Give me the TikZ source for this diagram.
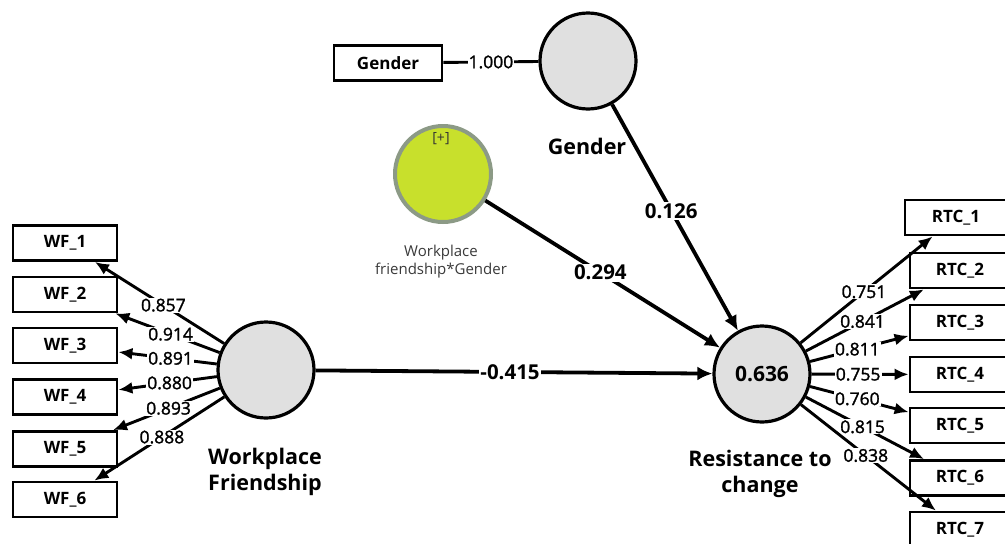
\documentclass[tikz,border=0pt]{standalone}
\usepackage{fontspec}
\setmainfont{Open Sans}
\newfontfamily\semib[FakeBold=1.5]{Open Sans}
\usetikzlibrary{arrows.meta}
\definecolor{lvfill}{HTML}{E0E0E0}
\definecolor{modfill}{HTML}{C8E02C}
\definecolor{modborder}{HTML}{8C9A86}
\definecolor{txtgray}{HTML}{3A3A3A}
\tikzset{
  lv/.style={circle, draw=black, line width=3.2pt, fill=lvfill, minimum size=96pt, inner sep=0pt},
  ind/.style={draw=black, line width=2.8pt, fill=white, minimum width=104pt, minimum height=35pt, inner sep=0pt, font=\fontsize{17}{19}\selectfont\bfseries},
  lvlabel/.style={font=\fontsize{21.5}{26}\selectfont\bfseries, align=center},
  path/.style={line width=3.8pt, -{Latex[length=15pt,width=14pt]}},
  load/.style={line width=2.9pt, -{Latex[length=14pt,width=12pt]}},
  coef/.style={fill=white, inner sep=1.5pt, font=\fontsize{20.5}{24}\selectfont\bfseries},
  lcoef/.style={fill=white, inner sep=1pt, font=\fontsize{17.5}{18}\semib},
}
\begin{document}
\begin{tikzpicture}[x=1pt,y=-1pt]
\useasboundingbox (0,0) rectangle (1005,544);
% latent variables
\node[lv] (G) at (588,61) {};
\node[lv, fill=modfill, draw=modborder, line width=4pt] (M) at (443,174) {};
\node[font=\fontsize{14}{16}\selectfont, text=black!80] (Mplus) at (441,139) {[+]};
\node[lv] (WF) at (266,370) {};
\node[lv, font=\fontsize{21}{24}\selectfont\bfseries] (RTC) at (762,374) {0.636};
% latent labels
\node[lvlabel] (Glab) at (587,146) {Gender};
\node[font=\fontsize{15}{18}\selectfont, text=txtgray, align=center] (Mlab) at (441,262) {Workplace\\friendship*Gender};
\node[lvlabel] (WFlab) at (265,472) {Workplace\\Friendship};
\node[lvlabel] (RTClab) at (760,474) {Resistance to\\change};
% indicators
\node[ind, minimum width=108pt] (Gbox) at (388,63) {Gender};
\node[ind] (WF1) at (65,243) {WF\_1};
\node[ind] (WF2) at (65,294.5) {WF\_2};
\node[ind] (WF3) at (65,345.5) {WF\_3};
\node[ind] (WF4) at (65,397) {WF\_4};
\node[ind] (WF5) at (65,449) {WF\_5};
\node[ind] (WF6) at (65,499.5) {WF\_6};
\node[ind, minimum width=102pt] (R1) at (956,217.5) {RTC\_1};
\node[ind, minimum width=100pt] (R2) at (960,270.5) {RTC\_2};
\node[ind, minimum width=100pt] (R3) at (960,322.5) {RTC\_3};
\node[ind, minimum width=100pt] (R4) at (960,374.5) {RTC\_4};
\node[ind, minimum width=100pt] (R5) at (960,425.5) {RTC\_5};
\node[ind, minimum width=100pt] (R6) at (960,478) {RTC\_6};
\node[ind, minimum width=100pt] (R7) at (960,529.5) {RTC\_7};
% gender indicator
\draw[line width=2.9pt] (Gbox) -- node[lcoef, pos=0.5] {1.000} (G);
% structural paths
\draw[path] (WF) -- node[coef, pos=0.49] {-0.415} (RTC);
\draw[path] (M) -- node[coef, pos=0.49] {0.294} (RTC);
\draw[path] (G) -- node[coef, pos=0.47] {0.126} (RTC);
% WF loadings
\draw[load] (WF) -- node[lcoef, pos=0.47] {0.857} (WF1);
\draw[load] (WF) -- node[lcoef, pos=0.47] {0.914} (WF2);
\draw[load] (WF) -- node[lcoef, pos=0.47] {0.891} (WF3);
\draw[load] (WF) -- node[lcoef, pos=0.48] {0.880} (WF4);
\draw[load] (WF) -- node[lcoef, pos=0.48] {0.893} (WF5);
\draw[load] (WF) -- node[lcoef, pos=0.48] {0.888} (WF6);
% RTC loadings
\draw[load] (RTC) -- node[lcoef, pos=0.48] {0.751} (R1);
\draw[load] (RTC) -- node[lcoef, pos=0.48] {0.841} (R2);
\draw[load] (RTC) -- node[lcoef, pos=0.48] {0.811} (R3);
\draw[load] (RTC) -- node[lcoef, pos=0.48] {0.755} (R4);
\draw[load] (RTC) -- node[lcoef, pos=0.48] {0.760} (R5);
\draw[load] (RTC) -- node[lcoef, pos=0.48] {0.815} (R6);
\draw[load] (RTC) -- node[lcoef, pos=0.48] {0.838} (R7);
\end{tikzpicture}
\end{document}
